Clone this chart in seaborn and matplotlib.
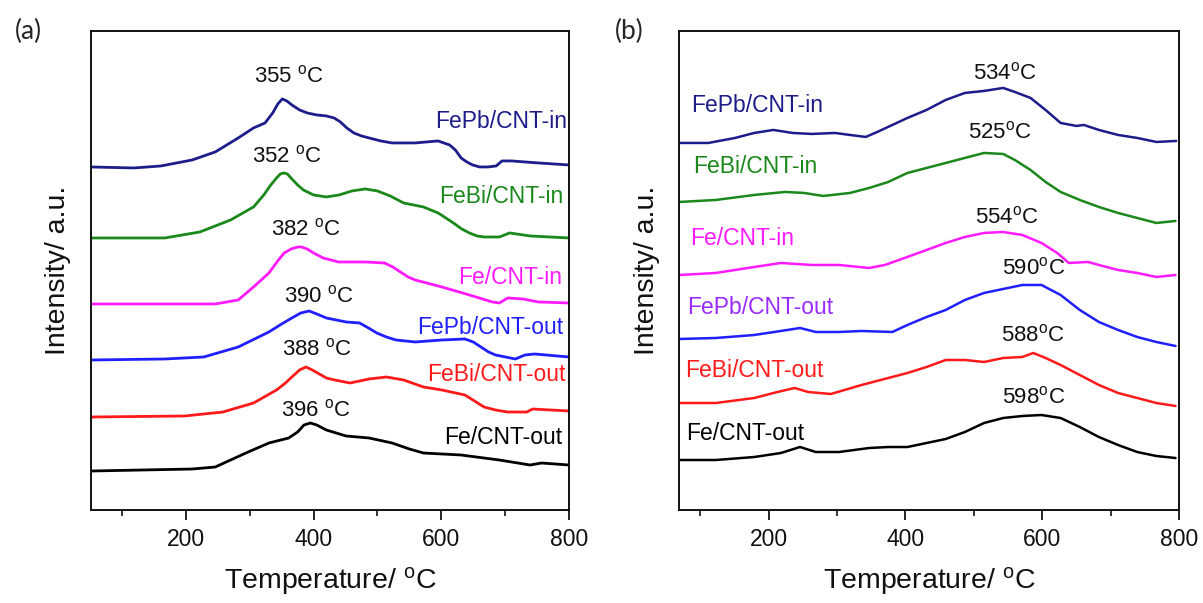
import numpy as np
import pandas as pd
import matplotlib
matplotlib.use("Agg")
import matplotlib.pyplot as plt
import seaborn as sns
from matplotlib.ticker import MultipleLocator

# ---------------- data: panel (a) ----------------
a_names = ["FePb/CNT-in", "FeBi/CNT-in", "Fe/CNT-in", "FePb/CNT-out", "FeBi/CNT-out", "Fe/CNT-out"]
a_colors = ["#1c1c8a", "#1a881a", "#ff1aff", "#1f1fff", "#ff1a1a", "#000000"]

a_T_FePb_in = [51, 119, 161, 210, 246, 282, 306, 324, 336, 344, 351, 358, 366, 378, 390, 405, 420, 432, 442, 452, 463, 475, 487, 505, 523, 559, 595, 613, 622, 631, 640, 649, 660, 673, 686, 695, 710, 752, 800]
a_I_FePb_in = [343, 342, 344, 350, 358, 372, 382, 387, 397, 406, 411, 409, 405, 400, 397, 395, 394, 392, 388, 382, 377, 374, 372, 369, 367, 367, 369, 365, 360, 352, 348, 345, 343, 343, 344, 349, 349, 347, 345]

a_T_FeBi_in = [51, 167, 222, 270, 306, 322, 333, 342, 348, 353, 359, 366, 375, 384, 400, 420, 440, 460, 481, 500, 520, 541, 572, 595, 607, 619, 632, 644, 656, 667, 691, 707, 739, 800]
a_I_FeBi_in = [272, 272, 278, 290, 303, 315, 325, 332, 336, 337, 336, 331, 325, 320, 315, 313, 315, 319, 321, 319, 314, 307, 303, 297, 292, 287, 281, 277, 274, 273, 273, 277, 274, 272]

a_T_Fe_in = [51, 246, 282, 306, 330, 345, 354, 365, 375, 381, 390, 400, 415, 439, 481, 511, 524, 536, 548, 559, 601, 644, 680, 691, 704, 728, 752, 800]
a_I_Fe_in = [206, 206, 210, 223, 237, 250, 257, 261, 263, 263, 261, 257, 252, 248, 248, 247, 243, 238, 233, 230, 223, 215, 208, 207, 212, 211, 208, 207]

a_T_FePb_out = [51, 167, 228, 282, 330, 350, 366, 380, 393, 405, 420, 451, 472, 486, 499, 514, 529, 559, 601, 637, 650, 662, 674, 685, 716, 731, 746, 800]
a_I_FePb_out = [150, 151, 153, 163, 178, 186, 192, 197, 199, 196, 192, 188, 187, 182, 177, 173, 170, 168, 170, 171, 168, 163, 158, 155, 151, 155, 156, 153]

a_T_FeBi_out = [51, 198, 258, 306, 342, 356, 366, 378, 388, 398, 409, 420, 433, 457, 487, 514, 541, 572, 601, 637, 652, 667, 685, 704, 734, 743, 800]
a_I_FeBi_out = [93, 94, 98, 107, 120, 127, 133, 140, 143, 140, 136, 132, 130, 127, 131, 133, 130, 123, 120, 115, 109, 103, 100, 98, 98, 101, 99]

a_T_Fe_out = [51, 210, 246, 294, 330, 361, 375, 385, 395, 405, 420, 451, 487, 523, 550, 572, 631, 691, 739, 757, 800]
a_I_Fe_out = [39, 41, 43, 57, 67, 72, 78, 85, 87, 85, 80, 74, 72, 67, 61, 57, 55, 50, 45, 47, 45]

a_peak_text = ["355", "352", "382", "390", "388", "396"]
a_peak_T = [361, 358, 388, 409, 406, 403]
a_peak_I = [434, 354, 281, 214, 161, 100]
a_name_T = [797, 791, 789, 791, 794, 789]
a_name_I = [388, 313, 232, 182, 135, 73]

# ---------------- data: panel (b) ----------------
b_names = ["FePb/CNT-in", "FeBi/CNT-in", "Fe/CNT-in", "FePb/CNT-out", "FeBi/CNT-out", "Fe/CNT-out"]
b_colors = ["#1c1c8a", "#1a881a", "#ff1aff", "#1f1fff", "#ff1a1a", "#000000"]
b_label_colors = ["#1c1c8a", "#1a881a", "#ff1aff", "#9a2bff", "#ff1a1a", "#000000"]

b_T_FePb_in = [70, 112, 151, 179, 207, 235, 263, 297, 319, 342, 359, 381, 403, 431, 459, 487, 515, 543, 560, 583, 605, 627, 650, 661, 683, 711, 739, 767, 796]
b_I_FePb_in = [367, 367, 372, 377, 380, 377, 376, 377, 375, 373, 378, 385, 392, 400, 410, 417, 419, 422, 418, 412, 400, 387, 384, 385, 380, 375, 372, 368, 369]

b_T_FeBi_in = [70, 123, 179, 224, 252, 280, 319, 347, 375, 403, 431, 459, 487, 515, 543, 560, 583, 605, 627, 655, 683, 711, 739, 767, 795]
b_I_FeBi_in = [308, 310, 315, 318, 317, 314, 317, 322, 328, 337, 342, 347, 352, 357, 356, 350, 340, 328, 318, 310, 303, 297, 292, 287, 289]

b_T_Fe_in = [70, 123, 179, 218, 263, 303, 347, 370, 403, 431, 459, 487, 515, 543, 571, 599, 622, 639, 667, 683, 711, 739, 767, 795]
b_I_Fe_in = [235, 237, 243, 247, 245, 245, 242, 245, 253, 260, 267, 273, 277, 278, 275, 267, 257, 247, 248, 245, 240, 237, 233, 235]

b_T_FePb_out = [70, 123, 179, 218, 246, 269, 303, 336, 381, 403, 431, 459, 487, 515, 543, 571, 599, 627, 655, 683, 711, 739, 767, 795]
b_I_FePb_out = [171, 172, 175, 179, 182, 178, 178, 179, 178, 185, 193, 200, 210, 217, 221, 225, 225, 215, 200, 188, 180, 173, 168, 164]

b_T_FeBi_out = [70, 123, 179, 213, 238, 258, 291, 336, 375, 403, 431, 459, 487, 515, 543, 571, 587, 605, 627, 655, 683, 711, 739, 767, 795]
b_I_FeBi_out = [107, 107, 112, 118, 122, 118, 116, 125, 132, 137, 143, 150, 150, 148, 152, 153, 157, 152, 145, 135, 125, 117, 112, 107, 104]

b_T_Fe_out = [70, 123, 179, 218, 246, 269, 303, 347, 375, 403, 431, 459, 487, 515, 543, 571, 599, 627, 655, 683, 711, 739, 767, 795]
b_I_Fe_out = [50, 50, 53, 57, 63, 58, 58, 62, 63, 63, 67, 71, 78, 87, 92, 94, 95, 92, 83, 73, 65, 58, 54, 52]

b_peak_text = ["534", "525", "554", "590", "588", "598"]
b_peak_T = [546, 538, 549, 588, 587, 588]
b_peak_I = [437, 378, 293, 242, 175, 113]
b_name_T = [87, 90, 85, 81, 78, 79]
b_name_I = [404, 343, 271, 202, 139, 77]

x_ticks = [200, 400, 600, 800]

# ---------------- style ----------------
sns.set_style("ticks")
plt.rcParams["font.family"] = "sans-serif"
plt.rcParams["font.sans-serif"] = ["Liberation Sans"]
plt.rcParams["mathtext.fontset"] = "custom"
plt.rcParams["mathtext.rm"] = "Liberation Sans"
plt.rcParams["mathtext.it"] = "Liberation Sans:italic"

fig = plt.figure(figsize=(12.03, 6.03), dpi=100)
axA = fig.add_axes([0.0754, 0.1542, 0.3976, 0.795])
axB = fig.add_axes([0.5644, 0.1542, 0.4156, 0.795])

a_series = [(a_T_FePb_in, a_I_FePb_in), (a_T_FeBi_in, a_I_FeBi_in), (a_T_Fe_in, a_I_Fe_in),
            (a_T_FePb_out, a_I_FePb_out), (a_T_FeBi_out, a_I_FeBi_out), (a_T_Fe_out, a_I_Fe_out)]
b_series = [(b_T_FePb_in, b_I_FePb_in), (b_T_FeBi_in, b_I_FeBi_in), (b_T_Fe_in, b_I_Fe_in),
            (b_T_FePb_out, b_I_FePb_out), (b_T_FeBi_out, b_I_FeBi_out), (b_T_Fe_out, b_I_Fe_out)]

for (T, I), c in zip(a_series, a_colors):
    df = pd.DataFrame({"T": T, "I": I})
    sns.lineplot(data=df, x="T", y="I", ax=axA, color=c, lw=2.0, estimator=None, sort=False)
for (T, I), c in zip(b_series, b_colors):
    df = pd.DataFrame({"T": T, "I": I})
    sns.lineplot(data=df, x="T", y="I", ax=axB, color=c, lw=1.8, estimator=None, sort=False)

deg = r"$^{\mathrm{o}}$C"
for txt, t, i in zip(a_peak_text, a_peak_T, a_peak_I):
    axA.text(t, i, txt + " " + deg, ha="center", va="center", fontsize=16, color="#111111")
for n, t, i, c in zip(a_names, a_name_T, a_name_I, a_colors):
    axA.text(t, i, n, ha="right", va="center", fontsize=16.5, color=c)
for txt, t, i in zip(b_peak_text, b_peak_T, b_peak_I):
    axB.text(t, i, txt + deg, ha="center", va="center", fontsize=16, color="#111111")
for n, t, i, c in zip(b_names, b_name_T, b_name_I, b_label_colors):
    axB.text(t, i, n, ha="left", va="center", fontsize=16.5, color=c)

for ax, xl in ((axA, (51, 800)), (axB, (69, 800))):
    ax.set_xlim(*xl)
    ax.set_ylim(0, 479.3)
    ax.set_xticks(x_ticks)
    ax.xaxis.set_minor_locator(MultipleLocator(100))
    ax.set_yticks([])
    ax.tick_params(axis="x", which="major", direction="out", length=7, width=1.3,
                   labelsize=16.5, pad=6, colors="#111111")
    ax.tick_params(axis="x", which="minor", direction="out", length=4, width=1.3)
    for s in ax.spines.values():
        s.set_visible(True)
        s.set_linewidth(1.4)
        s.set_color("#111111")
    ax.set_xlabel("Temperature/ " + deg, fontsize=20.5, labelpad=10, color="#111111")
    ax.set_ylabel("Intensity/ a.u.", fontsize=20.5, labelpad=14, color="#111111")

fig.text(0.024, 0.948, "(a)", fontsize=19, family=["Lato", "DejaVu Sans"], ha="center", va="center")
fig.text(0.523, 0.948, "(b)", fontsize=19, family=["Lato", "DejaVu Sans"], ha="center", va="center")

fig.savefig("out.png", dpi=100)
